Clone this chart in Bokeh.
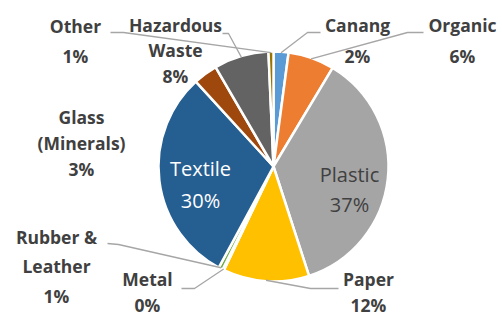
import math
from bokeh.plotting import figure
from bokeh.models import Range1d, ColumnDataSource
from bokeh.core.properties import value
from bokeh.embed import file_html
from bokeh.resources import INLINE

# ---- data ----
categories = ["Canang", "Organic", "Plastic", "Paper", "Metal",
              "Rubber &\nLeather", "Textile", "Glass\n(Minerals)", "Hazardous\nWaste", "Other"]
shares = [2.1, 6.5, 36.4, 12.1, 0.2, 0.6, 30.3, 3.4, 7.7, 0.7]
pct_labels = ["2%", "6%", "37%", "12%", "0%", "1%", "30%", "3%", "8%", "1%"]
colors = ["#5B9BD5", "#ED7D31", "#A5A5A5", "#FFC000", "#4472C4",
          "#70AD47", "#255E91", "#9E480E", "#636363", "#997300"]

# ---- layout (pixel coords, y downward) ----
W, H = 502, 317
CX, CY, R = 273, 166, 115

def Y(y):
    return H - y

label_pos = [(357, 24, 31), (462, 24, 31), (349, 174, 30), (368, 278, 26),
             (147, 278, 26), (56, 236, 29.5), (200, 167.5, 32), (81, 116, 26),
             (175, 24, 25.5), (75, 25.5, 29.5)]
inside = [False, False, True, False, False, False, True, False, False, False]
leader = {0: (320, 32, 307, 32), 1: (423, 32, 407, 32), 3: (338, 288, 310, 288),
          4: (181, 288, 194, 288), 5: (107, 243, 118, 244), 8: (222, 33, 228, 33),
          9: (110, 32, 123, 32)}

p = figure(width=W, height=H, output_backend="svg", toolbar_location=None,
           x_range=Range1d(0, W), y_range=Range1d(0, H), min_border=0)
p.axis.visible = False
p.grid.visible = False
p.outline_line_color = None
p.background_fill_color = "white"

total = sum(shares)
starts, ends, mids = [], [], []
acc = 0.0
for s in shares:
    a0 = math.pi / 2 - 2 * math.pi * acc / total
    acc += s
    a1 = math.pi / 2 - 2 * math.pi * acc / total
    starts.append(a0)
    ends.append(a1)
    mids.append((a0 + a1) / 2)

src = ColumnDataSource(dict(start=starts, end=ends, color=colors))
p.wedge(x=CX, y=Y(CY), radius=R, start_angle="start", end_angle="end",
        direction="clock", fill_color="color", line_color="white", line_width=2.5,
        source=src)

for i, (lx, ly, kx, ky) in leader.items():
    ex = CX + (R - 1) * math.cos(mids[i])
    ey = Y(CY) + (R - 1) * math.sin(mids[i])
    p.line([lx, kx, ex], [Y(ly), Y(ky), ey], line_color="#A6A6A6", line_width=1.3)

for i, cat in enumerate(categories):
    lines = cat.split("\n") + [pct_labels[i]]
    x0, y0, step = label_pos[i]
    if inside[i]:
        col = "white" if categories[i] == "Textile" else "#404040"
        size, style = "20px", "normal"
    else:
        col, size, style = "#404040", "17.5px", "bold"
    for k, t in enumerate(lines):
        p.text(x=[x0], y=[Y(y0 + k * step)], text=[t], text_align="center",
               text_baseline="middle", text_color=col, text_font=value("Open Sans"),
               text_font_size=size, text_font_style=style)

open("out.html", "w").write(file_html(p, INLINE))
